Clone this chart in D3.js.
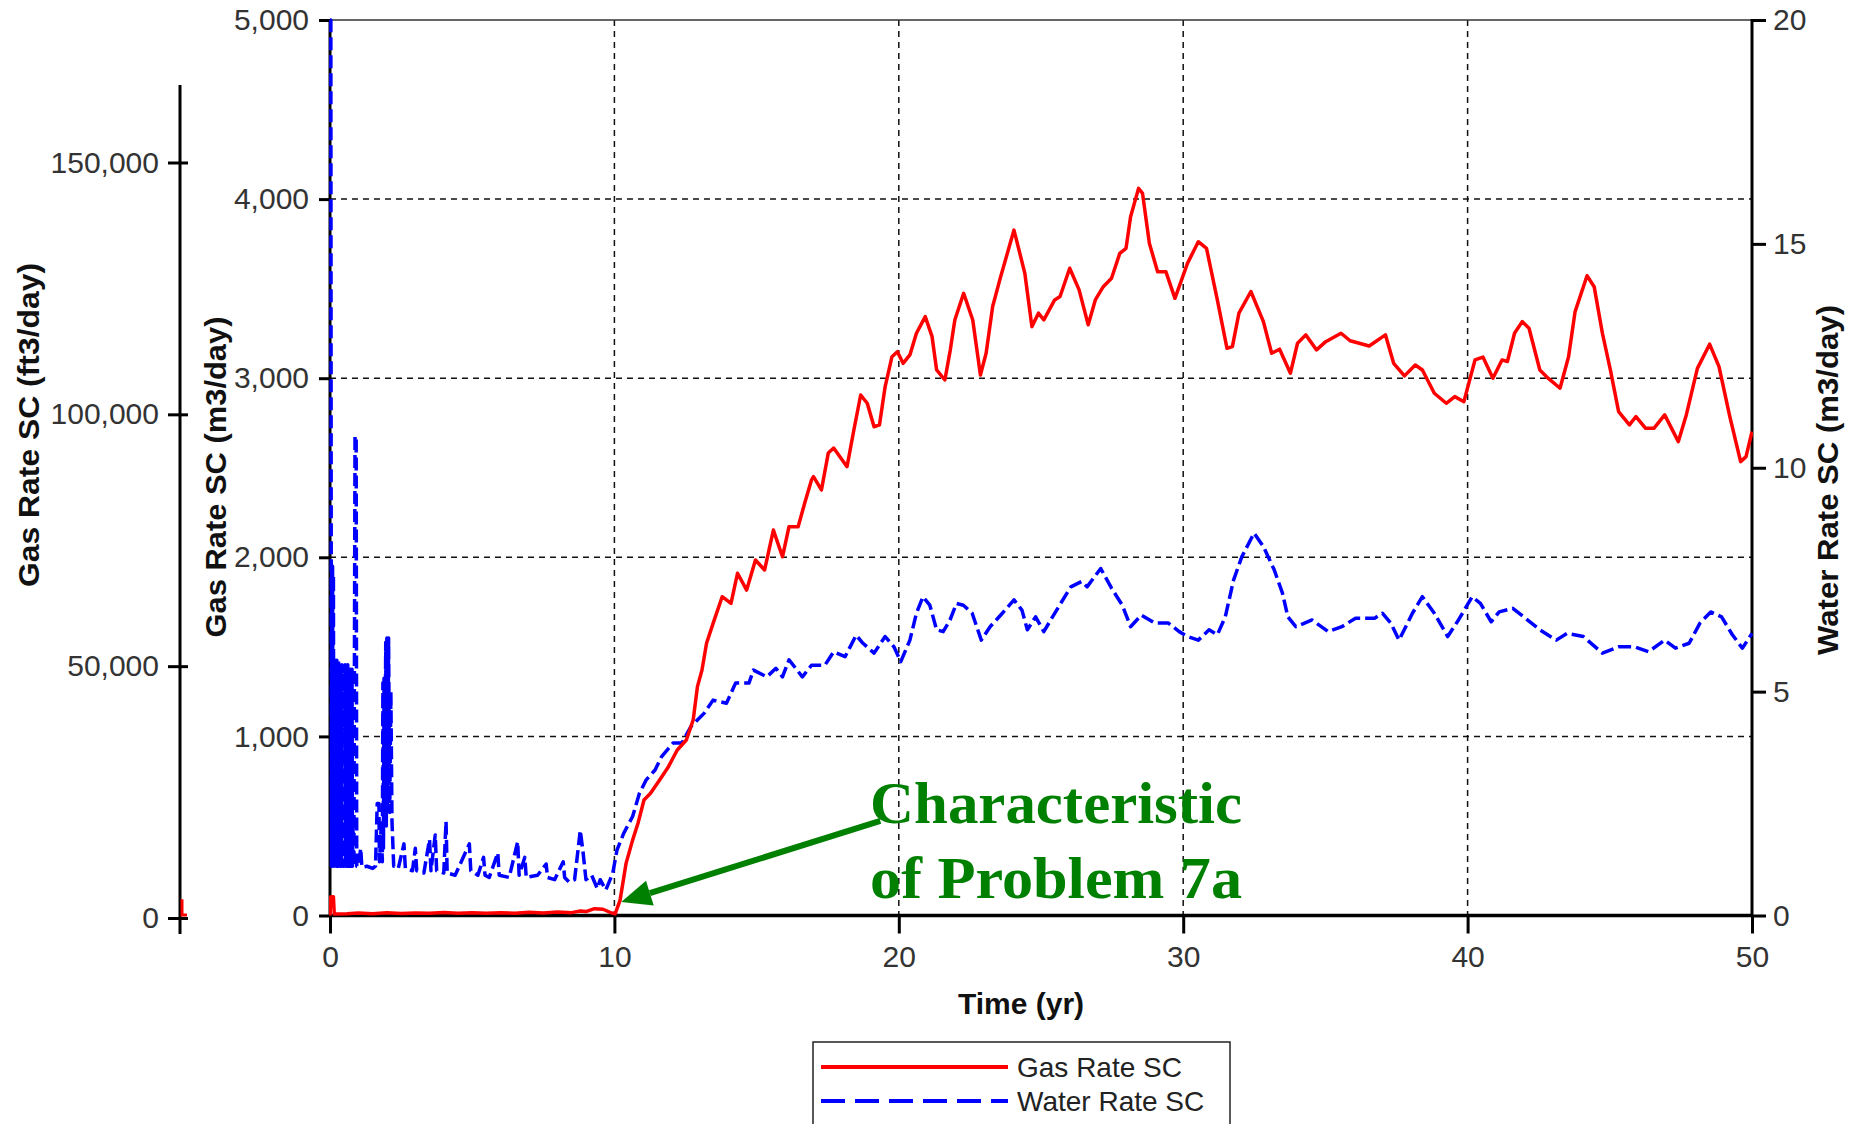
<!DOCTYPE html>
<html><head><meta charset="utf-8">
<script src="https://cdn.jsdelivr.net/npm/d3@7"></script>
<style>
html,body{margin:0;padding:0;background:#fff;}
svg{display:block;}
</style></head>
<body>
<div id="chart"></div>
<script>
// ---------------- data ----------------
const xTicks = [0, 10, 20, 30, 40, 50];
const gasTicks = [0, 1000, 2000, 3000, 4000, 5000];
const waterTicks = [0, 5, 10, 15, 20];
const ft3Ticks = [0, 50000, 100000, 150000];

const gasYears = [0,0.03,0.12,0.15,0.6,1.0,1.5,2.0,2.5,3.0,3.5,4.0,4.5,5.0,5.5,6.0,6.5,7.0,7.5,8.0,8.5,8.8,9.0,9.3,9.6,9.9,10.03,
10.2,10.41,10.64,10.83,11.04,11.27,11.59,11.9,12.21,12.53,12.77,12.92,13.08,13.24,13.47,13.79,14.1,14.33,14.65,14.96,15.28,15.59,15.91,16.14,16.46,16.69,16.93,17.0,17.28,17.52,17.71,18.18,18.42,18.66,18.89,19.13,19.32,19.52,19.76,19.95,20.15,20.39,20.62,20.93,21.17,21.33,21.62,21.81,21.97,22.28,22.6,22.87,23.07,23.3,23.57,24.05,24.43,24.68,24.91,25.1,25.48,25.67,26.01,26.34,26.66,26.91,27.19,27.48,27.77,27.99,28.15,28.43,28.57,28.81,29.1,29.39,29.71,30.15,30.53,30.82,31.2,31.54,31.73,31.96,32.38,32.82,33.11,33.39,33.77,34.02,34.31,34.69,35.01,35.55,35.87,36.54,37.11,37.4,37.78,38.16,38.41,38.83,39.25,39.55,39.87,40.26,40.54,40.89,41.21,41.4,41.65,41.92,42.16,42.54,42.83,43.25,43.55,43.78,44.2,44.45,44.74,45.02,45.31,45.69,45.92,46.26,46.55,46.93,47.41,47.69,48.08,48.51,48.84,49.22,49.6,49.79,50.0];
const gasRate = [0,105,105,8,10,14,10,16,11,14,12,17,12,15,12,16,13,18,14,20,16,25,22,38,35,14,10,
86,291,421,515,645,682,757,831,924,980,1092,1278,1371,1520,1631,1780,1743,1911,1817,1985,1929,2152,2003,2171,2171,2302,2432,2450,2376,2582,2610,2506,2711,2906,2860,2729,2739,2953,3120,3148,3083,3130,3251,3344,3232,3046,2990,3157,3325,3474,3325,3018,3139,3400,3560,3827,3587,3288,3363,3326,3437,3456,3614,3493,3298,3437,3511,3558,3697,3725,3902,4060,4032,3753,3595,3595,3446,3641,3762,3725,3437,3167,3176,3363,3484,3316,3139,3162,3028,3195,3242,3158,3204,3251,3209,3180,3242,3083,3013,3074,3046,2916,2860,2897,2869,3102,3118,3000,3102,3093,3251,3316,3279,3046,3000,2944,3120,3372,3572,3511,3251,3046,2813,2739,2786,2720,2720,2795,2646,2795,3055,3190,3065,2786,2534,2562,2702];

// water: first year (dense early spikes)
const waterYearsFirst = [0,0.03,0.05,0.06,0.075,0.09,0.105,0.12,0.135,0.15,0.165,0.18,0.195,0.21,0.225,0.24,0.255,0.27,0.285,0.3,0.315,0.33,0.345,0.36,0.375,0.39,0.405,0.42,0.44,0.46,0.48,0.5,0.52,0.535,0.55,0.565,0.58,0.595,0.61,0.625,0.64,0.655,0.67,0.685,0.7,0.715,0.73,0.745,0.76,0.775,0.79,0.81,0.84,0.88,0.92,0.94,1.0];
const waterRateFirst = [20,20,1.1,7.8,1.1,7.8,1.1,7.6,1.1,5.7,1.1,5.7,1.1,5.6,1.1,5.7,1.1,5.6,1.1,5.7,1.1,5.6,1.1,5.6,1.1,5.5,1.1,5.6,2.5,1.1,2.5,1.1,2.4,5.6,1.1,5.6,1.1,5.5,1.1,5.6,1.1,5.5,1.1,5.5,1.1,5.5,1.1,5.4,1.1,5.5,1.1,2.0,1.1,10.7,10.7,1.1,1.1];
// water: years 1 to 10
const waterYearsEarly = [1.08,1.12,1.3,1.5,1.6,1.66,1.72,1.74,1.8,1.84,1.86,1.88,1.9,1.92,1.96,1.98,2.0,2.03,2.06,2.1,2.14,2.18,2.24,2.3,2.4,2.6,2.65,2.9,3.0,3.05,3.3,3.5,3.55,3.7,3.75,4.0,4.08,4.12,4.4,4.9,4.95,5.2,5.4,5.45,5.6,5.9,5.95,6.3,6.6,6.65,6.85,6.9,7.3,7.6,7.65,7.9,8.2,8.25,8.4,8.6,8.8,8.9,9.0,9.2,9.4,9.5,9.7,9.94];
const waterRateEarly = [1.5,1.08,1.1,1.05,1.1,2.5,2.5,1.2,2.0,1.2,5.2,1.5,5.3,2.2,6.1,2.0,6.2,2.5,6.2,2.3,5.0,2.1,1.1,1.1,1.05,1.6,1.05,1.0,1.5,1.0,0.95,1.7,1.0,1.8,1.0,0.95,2.1,0.95,0.9,1.6,1.0,0.9,1.3,0.9,0.85,1.4,0.9,0.85,1.65,0.9,1.3,0.85,0.9,1.15,0.85,0.8,1.2,0.85,0.75,0.8,1.9,1.4,0.8,0.9,0.6,0.8,0.57,0.94];
// water: years 10 to 50
const waterYearsLate = [10.09,10.33,10.64,10.88,11.12,11.43,11.66,12.06,12.37,12.69,13.16,13.47,13.94,14.26,14.73,14.89,15.36,15.68,15.91,16.14,16.61,16.93,17.4,17.71,18.11,18.5,18.74,19.13,19.52,19.83,20.07,20.39,20.62,20.85,21.09,21.33,21.56,21.8,22.03,22.27,22.58,22.9,23.21,23.57,24.05,24.33,24.52,24.81,25.1,25.48,26.05,26.43,26.62,27.1,27.48,27.86,28.15,28.53,29.0,29.48,29.86,30.15,30.53,30.91,31.2,31.48,31.77,32.06,32.49,32.82,33.2,33.49,33.68,33.96,34.53,35.1,35.58,36.06,36.73,37.01,37.3,37.59,38.06,38.41,38.83,39.3,39.68,40.16,40.45,40.83,41.11,41.59,41.97,42.54,43.12,43.5,44.07,44.74,45.31,45.88,46.36,46.93,47.31,47.79,48.17,48.55,48.93,49.31,49.66,50.0];
const waterRateLate = [1.46,1.84,2.21,2.73,3.03,3.25,3.55,3.85,3.85,4.22,4.52,4.81,4.74,5.19,5.19,5.48,5.33,5.52,5.33,5.71,5.33,5.59,5.59,5.89,5.78,6.26,6.08,5.86,6.23,6.0,5.67,6.15,6.75,7.12,6.93,6.38,6.34,6.6,6.97,6.93,6.75,6.15,6.45,6.7,7.05,6.82,6.38,6.67,6.34,6.75,7.34,7.46,7.34,7.75,7.31,6.93,6.45,6.71,6.53,6.53,6.34,6.23,6.15,6.38,6.27,6.67,7.49,8.01,8.54,8.24,7.72,7.2,6.67,6.45,6.6,6.34,6.45,6.64,6.64,6.75,6.53,6.15,6.75,7.12,6.75,6.23,6.6,7.12,6.97,6.56,6.78,6.86,6.67,6.38,6.15,6.3,6.23,5.86,6.0,6.0,5.89,6.15,5.97,6.08,6.53,6.78,6.67,6.27,5.97,6.3];

const M3_TO_FT3 = 35.3147;
const seriesNames = ["Gas Rate SC", "Water Rate SC"];
const annotationLines = ["Characteristic", "of Problem 7a"];

const waterYears = waterYearsFirst.concat(waterYearsEarly, waterYearsLate);
const waterRate = waterRateFirst.concat(waterRateEarly, waterRateLate);

// ---------------- layout ----------------
const W = 1850, H = 1124;
const L = 330, R = 1752, T = 20, B = 915.5;

const svg = d3.select("#chart").append("svg").attr("width", W).attr("height", H);
svg.append("rect").attr("width", W).attr("height", H).attr("fill", "#fff");

const x = d3.scaleLinear([0, 50], [L, R]);
const yGas = d3.scaleLinear([0, 5000], [B, T]);
const yWater = d3.scaleLinear([0, 20], [B, T]);
const yFt3 = d3.scaleLinear([0, 150000], [918, 162.5]);

const tickFont = "'Liberation Sans', Arial, sans-serif";

// gridlines
const grid = svg.append("g").attr("stroke", "#111").attr("stroke-width", 1.5).attr("stroke-dasharray", "6,5");
grid.selectAll("line.h").data(gasTicks.filter(v => v > 0 && v < 5000)).join("line")
  .attr("x1", L).attr("x2", R).attr("y1", d => yGas(d)).attr("y2", d => yGas(d));
grid.selectAll("line.v").data(xTicks.filter(v => v > 0 && v < 50)).join("line")
  .attr("y1", T).attr("y2", B).attr("x1", d => x(d)).attr("x2", d => x(d));

// top border
svg.append("line").attr("x1", L).attr("x2", R).attr("y1", T).attr("y2", T)
  .attr("stroke", "#333").attr("stroke-width", 1.5);

function styleAxis(g) {
  g.select(".domain").remove();
  g.selectAll(".tick line").attr("stroke", "#000").attr("stroke-width", 3);
  g.selectAll(".tick text").attr("fill", "#333").attr("font-family", tickFont).attr("font-size", 30);
}

// bottom axis
const gx = svg.append("g").attr("transform", `translate(0,${B})`)
  .call(d3.axisBottom(x).tickValues(xTicks).tickFormat(d3.format("d")).tickSize(18).tickPadding(12));
styleAxis(gx);

// left main axis
const gy = svg.append("g").attr("transform", `translate(${L},0)`)
  .call(d3.axisLeft(yGas).tickValues(gasTicks).tickFormat(d3.format(",")).tickSize(11).tickPadding(10));
styleAxis(gy);

// right axis
const gr = svg.append("g").attr("transform", `translate(${R},0)`)
  .call(d3.axisRight(yWater).tickValues(waterTicks).tickFormat(d3.format("d")).tickSize(14).tickPadding(7));
styleAxis(gr);

// far left axis (ft3/day)
const FL = 180;
const gf = svg.append("g").attr("transform", `translate(${FL},0)`)
  .call(d3.axisLeft(yFt3).tickValues(ft3Ticks).tickFormat(d3.format(",")).tickSize(12).tickPadding(9));
styleAxis(gf);
gf.selectAll(".tick").append("line").attr("x1", 0).attr("x2", 8).attr("stroke", "#000").attr("stroke-width", 3);

// axis lines
const axisLines = svg.append("g").attr("stroke", "#000").attr("stroke-width", 3);
axisLines.append("line").attr("x1", L).attr("x2", L).attr("y1", T - 1).attr("y2", B + 1);
axisLines.append("line").attr("x1", R).attr("x2", R).attr("y1", T - 1).attr("y2", B + 1);
axisLines.append("line").attr("x1", L - 1).attr("x2", R + 1).attr("y1", B).attr("y2", B).attr("stroke-width", 3.5);
axisLines.append("line").attr("x1", FL).attr("x2", FL).attr("y1", 85).attr("y2", 934);

// clip
svg.append("clipPath").attr("id", "plotclip").append("rect")
  .attr("x", L - 1).attr("y", T - 2).attr("width", R - L + 2).attr("height", B - T + 4);

const plot = svg.append("g").attr("clip-path", "url(#plotclip)");

const waterData = waterYears.map((t, i) => [t, waterRate[i]]);
const gasData = gasYears.map((t, i) => [t, gasRate[i]]);

plot.append("path").datum(waterData)
  .attr("fill", "none").attr("stroke", "#0000ff").attr("stroke-width", 3.5)
  .attr("stroke-dasharray", "13,5").attr("stroke-linejoin", "round")
  .attr("d", d3.line().x(d => x(d[0])).y(d => yWater(d[1])));

plot.append("path").datum(gasData)
  .attr("fill", "none").attr("stroke", "#ff0000").attr("stroke-width", 3.5).attr("stroke-linejoin", "round")
  .attr("d", d3.line().x(d => x(d[0])).y(d => yGas(d[1])));

// red echo of gas start on far-left ft3 axis
const ft3Start = gasRate[1] * M3_TO_FT3;
svg.append("path").attr("fill", "none").attr("stroke", "#ff0000").attr("stroke-width", 3)
  .attr("d", `M${FL + 2},${yFt3(ft3Start)}V${yFt3(0) - 3}H${FL + 7}`);

// axis titles
const titleFont = "'Liberation Sans', Arial, sans-serif";
function vTitle(txt, cx, cy, len) {
  svg.append("text").attr("transform", `translate(${cx},${cy}) rotate(-90)`)
    .attr("text-anchor", "middle").attr("dy", "0.35em")
    .attr("font-family", titleFont).attr("font-weight", "bold").attr("font-size", 30)
    .attr("fill", "#111").attr("textLength", len).attr("lengthAdjust", "spacingAndGlyphs")
    .text(txt);
}
vTitle("Gas Rate SC (ft3/day)", 28, 425, 324);
vTitle("Gas Rate SC (m3/day)", 215, 477, 321);
vTitle("Water Rate SC (m3/day)", 1827, 480, 350);

svg.append("text").attr("x", 1021).attr("y", 1003).attr("dy", "0.35em")
  .attr("text-anchor", "middle").attr("font-family", titleFont).attr("font-weight", "bold")
  .attr("font-size", 30).attr("fill", "#111").text("Time (yr)");

// legend
const lg = svg.append("g");
lg.append("rect").attr("x", 813).attr("y", 1042).attr("width", 417).attr("height", 110)
  .attr("fill", "#fff").attr("stroke", "#222").attr("stroke-width", 1.5);
const legendItems = [
  {name: seriesNames[0], color: "#ff0000", dash: null, y: 1067},
  {name: seriesNames[1], color: "#0000ff", dash: "24,10", y: 1101}
];
legendItems.forEach(it => {
  const ln = lg.append("line").attr("x1", 821).attr("x2", 1008).attr("y1", it.y).attr("y2", it.y)
    .attr("stroke", it.color).attr("stroke-width", 4);
  if (it.dash) ln.attr("stroke-dasharray", it.dash);
  lg.append("text").attr("x", 1017).attr("y", it.y).attr("dy", "0.35em")
    .attr("font-family", tickFont).attr("font-size", 28).attr("fill", "#222").text(it.name);
});

// annotation
const green = "#008000";
const tipT = 10.24, tipV = 75, startT = 19.35, startV = 528;
const tx = x(tipT), ty = yGas(tipV), sx = x(startT), sy = yGas(startV);
const dx = sx - tx, dy = sy - ty, len = Math.hypot(dx, dy);
const ux = dx / len, uy = dy / len, px = -uy, py = ux;
const headLen = 30, headW = 13;
const bx = tx + ux * headLen, by = ty + uy * headLen;
svg.append("line").attr("x1", sx).attr("y1", sy).attr("x2", bx).attr("y2", by)
  .attr("stroke", green).attr("stroke-width", 6);
svg.append("path").attr("fill", green)
  .attr("d", `M${tx},${ty}L${bx + px * headW},${by + py * headW}L${bx - px * headW},${by - py * headW}Z`);

const annX = x(18.99);
[[annotationLines[0], 517], [annotationLines[1], 98]].forEach(([txt, v]) => {
  svg.append("text").attr("x", annX).attr("y", yGas(v))
    .attr("font-family", "'Liberation Serif', 'Times New Roman', serif").attr("font-weight", "bold")
    .attr("font-size", 60).attr("fill", green)
    .attr("textLength", 372).attr("lengthAdjust", "spacingAndGlyphs").text(txt);
});
</script>
</body></html>
